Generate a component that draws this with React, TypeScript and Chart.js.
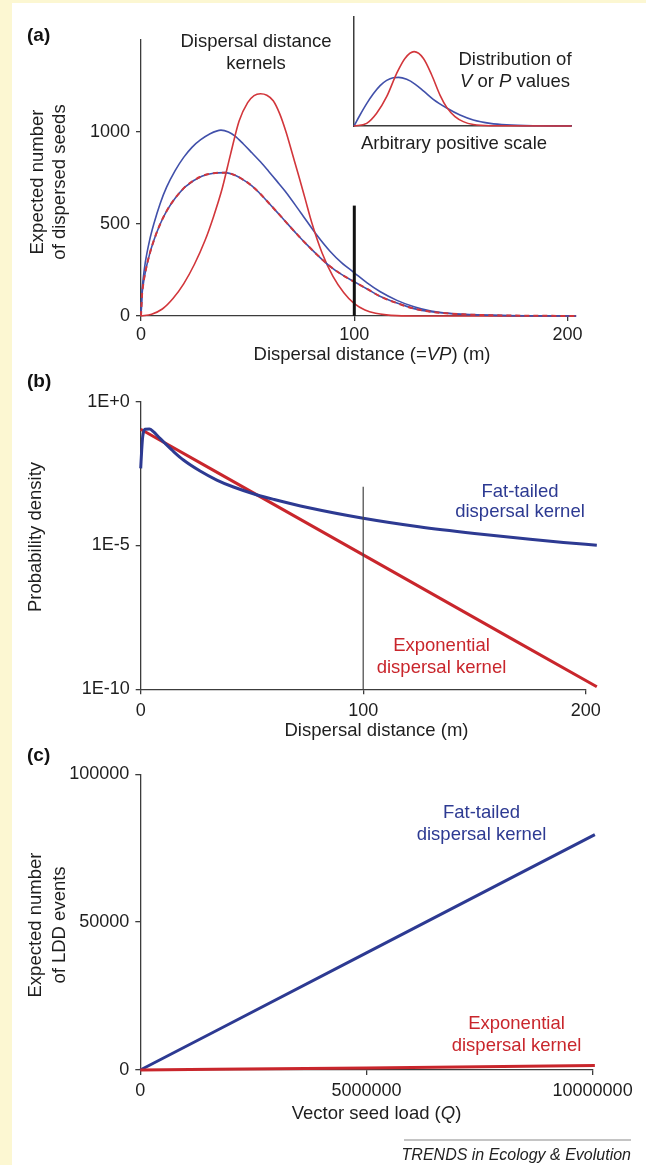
import React, { useEffect, useRef } from "react";
import { Chart, registerables } from "chart.js";

Chart.register(...registerables);

// ---------- Panel (a): dispersal distance kernels ----------
const distBlueA = [0, 0.5, 1, 2, 4, 6, 9, 12, 16, 20, 24, 28, 32, 37.5, 41, 44.1, 48, 52, 56, 59.8, 63.7, 67.6, 75, 82.4, 88.6, 94, 100, 106, 112, 120, 128, 136, 151, 170, 204];
const seedsBlueA = [0, 140, 200, 290, 410, 500, 612, 700, 790, 862, 918, 958, 988, 1010, 1000, 978, 935, 887, 838, 787, 733, 678, 560, 440, 352, 290, 235, 180, 133, 85, 50, 27, 8, 2, 0];
const distCombinedA = [0, 0.5, 1, 2, 4, 6, 9, 12, 16, 21, 28.5, 34, 39.5, 44.1, 48, 52, 56, 60, 64, 68, 73, 78, 83, 88.6, 94, 100, 106, 112, 120, 128, 136, 151, 170, 204];
const seedsCombinedA = [0, 118, 168, 237, 335, 410, 500, 570, 640, 705, 760, 776, 779, 765, 740, 707, 663, 613, 562, 510, 446, 385, 328, 270, 226, 186, 147, 107, 70, 40, 23, 9, 3, 0];
const distRedA = [0, 5, 10, 15, 20, 25, 30, 34, 38, 42, 46, 50, 53, 56, 59, 62, 65, 68, 71, 74, 77, 80, 85, 90, 95, 100, 105, 110, 115, 120, 130, 204];
const seedsRedA = [0, 10, 38, 95, 175, 280, 410, 540, 690, 880, 1060, 1160, 1198, 1208, 1200, 1170, 1100, 1000, 880, 760, 635, 510, 340, 215, 128, 67, 33, 15, 6, 2, 0, 0];
const markerDistA = [100, 100];
const markerSeedsA = [0, 600];
const xTicksA = [0, 100, 200];
const yTicksA = [0, 500, 1000];

// inset: distribution of V or P values (arbitrary positive scale)
const insetBlueX = [0, 0.276, 0.582, 0.888, 1.2, 1.5, 1.8, 2.05, 2.42, 2.8, 3.2, 3.64, 4.26, 4.87, 5.48, 6.25, 7.01, 8.54, 10];
const insetBlueY = [0, 0.101, 0.205, 0.295, 0.37, 0.418, 0.443, 0.446, 0.428, 0.385, 0.32, 0.245, 0.165, 0.1, 0.055, 0.024, 0.01, 0.002, 0];
const insetRedX = [0, 0.582, 1.04, 1.5, 1.96, 2.34, 2.76, 3.19, 3.57, 3.95, 4.26, 4.64, 5.02, 5.48, 6.25, 10];
const insetRedY = [0, 0.024, 0.117, 0.269, 0.483, 0.62, 0.682, 0.62, 0.468, 0.284, 0.171, 0.086, 0.04, 0.013, 0.002, 0];

// ---------- Panel (b): probability density (log) ----------
const distFatB = [0, 0.45, 0.9, 1.9, 3.9, 5.7, 7.95, 10.9, 15, 19.2, 26.7, 34.2, 41.7, 52, 60, 75, 100, 125, 150, 175, 190, 205];
const densityFatB = [4.83e-3, 2.09e-2, 6.07e-2, 0.11, 0.112, 0.0906, 0.0607, 0.0358, 0.0178, 9.4e-3, 3.89e-3, 1.89e-3, 1.08e-3, 5.84e-4, 3.97e-4, 2.09e-4, 8.83e-5, 4.47e-5, 2.61e-5, 1.64e-5, 1.27e-5, 1.02e-5];
const distExpB = [0, 100, 205];
const densityExpB = [0.11, 4.7e-6, 1.22e-10];
const markerDistB = [100, 100];
const markerDensityB = [1e-10, 1.1e-3];
const xTicksB = [0, 100, 200];
const yTickValuesB = [1, 1e-5, 1e-10];
const yTickLabelsB = ["1E+0", "1E-5", "1E-10"];

// ---------- Panel (c): expected number of LDD events ----------
const seedLoadC = [0, 5000000, 10050000];
const fatLddC = [0, 39600, 79600];
const expLddC = [0, 700, 1500];
const xTicksC = [0, 5000000, 10000000];
const yTicksC = [0, 50000, 100000];

// ---------- styling ----------
const FAMILY = "'Liberation Sans', Arial, Helvetica, sans-serif";
const CREAM = "#FCF7D2";
const AXIS = "#3c3c3c";
const TXT = "#1e1e1e";
const BLUE_A = "#4150AA";
const RED_A = "#D2363B";
const BLUE = "#2D3A92";
const RED = "#C9262C";
const TICK_SIZE = 18;

type Run = { t: string; italic?: boolean };
type Label = {
  runs: Run[];
  x: number;
  y: number;
  size: number;
  color: string;
  bold?: boolean;
  rotate?: boolean;
  align?: "left" | "center" | "right";
};

const pts = (xs: number[], ys: number[]) => xs.map((x, i) => ({ x, y: ys[i] }));

function textPlugin(labels: Label[], offX: number, offY: number, extra?: (ctx: CanvasRenderingContext2D) => void) {
  return {
    id: "texts",
    afterDraw(chart: any) {
      const ctx: CanvasRenderingContext2D = chart.ctx;
      ctx.save();
      if (extra) extra(ctx);
      labels.forEach((l) => {
        const fontOf = (r: Run) => `${r.italic ? "italic " : ""}${l.bold ? "bold " : ""}${l.size}px ${FAMILY}`;
        let total = 0;
        l.runs.forEach((r) => {
          ctx.font = fontOf(r);
          total += ctx.measureText(r.t).width;
        });
        ctx.save();
        ctx.translate(l.x - offX, l.y - offY);
        if (l.rotate) ctx.rotate(-Math.PI / 2);
        let start = l.align === "left" ? 0 : l.align === "right" ? -total : -total / 2;
        ctx.textBaseline = "middle";
        ctx.textAlign = "left";
        ctx.fillStyle = l.color;
        l.runs.forEach((r) => {
          ctx.font = fontOf(r);
          ctx.fillText(r.t, start, 0);
          start += ctx.measureText(r.t).width;
        });
        ctx.restore();
      });
      ctx.restore();
    },
  };
}

function xAxis(min: number, max: number, ticks: number[], height: number, pad: number, fmt?: (v: number) => string) {
  return {
    type: "linear",
    position: "bottom",
    min,
    max,
    afterBuildTicks: (s: any) => {
      s.ticks = ticks.map((v) => ({ value: v }));
    },
    afterFit: (s: any) => {
      s.height = height;
      s.paddingLeft = 0;
      s.paddingRight = 0;
    },
    ticks: {
      autoSkip: false,
      maxRotation: 0,
      minRotation: 0,
      padding: pad,
      color: TXT,
      font: { family: FAMILY, size: TICK_SIZE },
      callback: (v: any) => (fmt ? fmt(Number(v)) : String(v)),
    },
    grid: { display: true, drawOnChartArea: false, drawTicks: true, tickLength: 5, color: AXIS, lineWidth: 1.3 },
    border: { display: true, color: AXIS, width: 1.3 },
  };
}

function yAxis(type: string, min: number, max: number, ticks: number[], width: number, fmt?: (v: number) => string) {
  return {
    type,
    position: "left",
    min,
    max,
    afterBuildTicks: (s: any) => {
      s.ticks = ticks.map((v) => ({ value: v }));
    },
    afterFit: (s: any) => {
      s.width = width;
      s.paddingTop = 0;
      s.paddingBottom = 0;
    },
    ticks: {
      autoSkip: false,
      padding: 6,
      color: TXT,
      font: { family: FAMILY, size: TICK_SIZE },
      callback: (v: any) => (fmt ? fmt(Number(v)) : String(v)),
    },
    grid: { display: true, drawOnChartArea: false, drawTicks: true, tickLength: 5, color: AXIS, lineWidth: 1.3 },
    border: { display: true, color: AXIS, width: 1.3 },
  };
}

function line(data: { x: number; y: number }[], color: string, width: number, dash?: number[]) {
  return {
    data,
    borderColor: color,
    backgroundColor: color,
    borderWidth: width,
    borderDash: dash || [],
    pointRadius: 0,
    pointHoverRadius: 0,
    fill: false,
    cubicInterpolationMode: "monotone",
    clip: false,
  };
}

function baseOptions(padding: any, scales: any) {
  return {
    responsive: false,
    maintainAspectRatio: false,
    animation: false,
    devicePixelRatio: 1,
    events: [],
    layout: { padding },
    plugins: { legend: { display: false }, tooltip: { enabled: false }, title: { display: false } },
    scales,
  };
}

export default function App() {
  const refA = useRef<HTMLCanvasElement>(null);
  const refInset = useRef<HTMLCanvasElement>(null);
  const refB = useRef<HTMLCanvasElement>(null);
  const refC = useRef<HTMLCanvasElement>(null);

  useEffect(() => {
    const charts: Chart[] = [];

    // ---- Panel (a) ----
    const labelsA: Label[] = [
      { runs: [{ t: "(a)" }], x: 27, y: 36, size: 19, color: "#111", bold: true, align: "left" },
      { runs: [{ t: "Dispersal distance" }], x: 256, y: 42, size: 18.5, color: TXT },
      { runs: [{ t: "kernels" }], x: 256, y: 63.5, size: 18.5, color: TXT },
      { runs: [{ t: "Distribution of" }], x: 515, y: 60, size: 18.5, color: TXT },
      { runs: [{ t: "V", italic: true }, { t: " or " }, { t: "P", italic: true }, { t: " values" }], x: 515, y: 81.5, size: 18.5, color: TXT },
      { runs: [{ t: "Arbitrary positive scale" }], x: 454, y: 144, size: 18.5, color: TXT },
      { runs: [{ t: "Expected number" }], x: 38, y: 182, size: 18.5, color: TXT, rotate: true },
      { runs: [{ t: "of dispersed seeds" }], x: 60, y: 182, size: 18.5, color: TXT, rotate: true },
      { runs: [{ t: "Dispersal distance (=" }, { t: "VP", italic: true }, { t: ") (m)" }], x: 372, y: 355, size: 18.5, color: TXT },
    ];
    charts.push(
      new Chart(refA.current as HTMLCanvasElement, {
        type: "line",
        data: {
          datasets: [
            line(pts(markerDistA, markerSeedsA), "#111", 3),
            line(pts(distCombinedA, seedsCombinedA), RED_A, 2, [5, 4]),
            line(pts(distCombinedA, seedsCombinedA), BLUE_A, 1.6),
            line(pts(distRedA, seedsRedA), RED_A, 1.6),
            line(pts(distBlueA, seedsBlueA), BLUE_A, 1.6),
          ],
        } as any,
        options: baseOptions({ left: 0, top: 40, right: 72, bottom: 0 }, {
          x: xAxis(0, 203, xTicksA, 370 - 316, 3),
          y: yAxis("linear", 0, 1500, yTicksA, 141),
        }) as any,
        plugins: [textPlugin(labelsA, 0, 0) as any],
      })
    );

    // ---- Inset ----
    const insetAxis = (pos: string, max: number, fit: (s: any) => void) => ({
      type: "linear",
      position: pos,
      min: 0,
      max,
      afterFit: fit,
      ticks: { display: false },
      grid: { display: false },
      border: { display: true, color: AXIS, width: 1.5 },
    });
    charts.push(
      new Chart(refInset.current as HTMLCanvasElement, {
        type: "line",
        data: {
          datasets: [
            line(pts(insetRedX, insetRedY), RED_A, 1.6),
            line(pts(insetBlueX, insetBlueY), BLUE_A, 1.6),
          ],
        } as any,
        options: baseOptions({ left: 0, top: 17, right: 28.3, bottom: 0 }, {
          x: insetAxis("bottom", 10, (s: any) => {
            s.height = 14;
            s.paddingLeft = 0;
            s.paddingRight = 0;
          }),
          y: insetAxis("left", 1, (s: any) => {
            s.width = 54;
            s.paddingTop = 0;
            s.paddingBottom = 0;
          }),
        }) as any,
      })
    );

    // ---- Panel (b) ----
    const topB = 370;
    const hB = 380;
    const labelsB: Label[] = [
      { runs: [{ t: "(b)" }], x: 27, y: 382, size: 19, color: "#111", bold: true, align: "left" },
      { runs: [{ t: "Fat-tailed" }], x: 520, y: 491.5, size: 18.5, color: BLUE },
      { runs: [{ t: "dispersal kernel" }], x: 520, y: 512, size: 18.5, color: BLUE },
      { runs: [{ t: "Exponential" }], x: 441.5, y: 646, size: 18.5, color: RED },
      { runs: [{ t: "dispersal kernel" }], x: 441.5, y: 668, size: 18.5, color: RED },
      { runs: [{ t: "Probability density" }], x: 36, y: 537, size: 18.5, color: TXT, rotate: true },
      { runs: [{ t: "Dispersal distance (m)" }], x: 376.5, y: 731, size: 18.5, color: TXT },
    ];
    const fmtLog = (v: number) => {
      const i = yTickValuesB.findIndex((t) => Math.abs(Math.log10(t) - Math.log10(v)) < 0.01);
      return i >= 0 ? yTickLabelsB[i] : "";
    };
    charts.push(
      new Chart(refB.current as HTMLCanvasElement, {
        type: "line",
        data: {
          datasets: [
            line(pts(markerDistB, markerDensityB), "#444", 1.2),
            line(pts(distFatB, densityFatB), BLUE, 3),
            line(pts(distExpB, densityExpB), RED, 3),
          ],
        } as any,
        options: baseOptions({ left: 0, top: 401.7 - topB, right: 646 - 585.7, bottom: 0 }, {
          x: xAxis(0, 200, xTicksB, hB - (689.3 - topB), 6),
          y: yAxis("logarithmic", 1e-10, 1, yTickValuesB, 140.7, fmtLog),
        }) as any,
        plugins: [textPlugin(labelsB, 0, topB) as any],
      })
    );

    // ---- Panel (c) ----
    const topC = 735;
    const hC = 430;
    const labelsC: Label[] = [
      { runs: [{ t: "(c)" }], x: 27, y: 756, size: 19, color: "#111", bold: true, align: "left" },
      { runs: [{ t: "Fat-tailed" }], x: 481.5, y: 813, size: 18.5, color: BLUE },
      { runs: [{ t: "dispersal kernel" }], x: 481.5, y: 835, size: 18.5, color: BLUE },
      { runs: [{ t: "Exponential" }], x: 516.5, y: 1024, size: 18.5, color: RED },
      { runs: [{ t: "dispersal kernel" }], x: 516.5, y: 1046, size: 18.5, color: RED },
      { runs: [{ t: "Expected number" }], x: 36, y: 925, size: 18.5, color: TXT, rotate: true },
      { runs: [{ t: "of LDD events" }], x: 60, y: 925, size: 18.5, color: TXT, rotate: true },
      { runs: [{ t: "Vector seed load (" }, { t: "Q", italic: true }, { t: ")" }], x: 376.5, y: 1114, size: 18.5, color: TXT },
      { runs: [{ t: "TRENDS in Ecology & Evolution", italic: true }], x: 631, y: 1156, size: 16, color: "#222", align: "right" },
    ];
    const footerRule = (ctx: CanvasRenderingContext2D) => {
      ctx.strokeStyle = "#8a8a8a";
      ctx.lineWidth = 1.2;
      ctx.beginPath();
      ctx.moveTo(404, 1140 - topC);
      ctx.lineTo(631, 1140 - topC);
      ctx.stroke();
    };
    charts.push(
      new Chart(refC.current as HTMLCanvasElement, {
        type: "line",
        data: {
          datasets: [
            line(pts(seedLoadC, expLddC), RED, 3),
            line(pts(seedLoadC, fatLddC), BLUE, 3),
          ],
        } as any,
        options: baseOptions({ left: 0, top: 774.3 - topC, right: 646 - 592.6, bottom: 0 }, {
          x: xAxis(0, 10000000, xTicksC, hC - (1070 - topC), 5),
          y: yAxis("linear", 0, 100000, yTicksC, 140.3),
        }) as any,
        plugins: [textPlugin(labelsC, 0, topC, footerRule) as any],
      })
    );

    return () => charts.forEach((c) => c.destroy());
  }, []);

  const abs = (l: number, t: number, w: number, h: number): React.CSSProperties => ({
    position: "absolute",
    left: l,
    top: t,
    width: w,
    height: h,
  });

  return (
    <div style={{ ...abs(0, 0, 646, 1165), background: CREAM, overflow: "hidden" }}>
      <div style={{ ...abs(12, 3, 634, 1162), background: "#ffffff" }} />
      <canvas ref={refA} width={646} height={370} style={abs(0, 0, 646, 370)} />
      <canvas ref={refInset} width={300} height={140} style={abs(300, 0, 300, 140)} />
      <canvas ref={refB} width={646} height={380} style={abs(0, 370, 646, 380)} />
      <canvas ref={refC} width={646} height={430} style={abs(0, 735, 646, 430)} />
    </div>
  );
}
